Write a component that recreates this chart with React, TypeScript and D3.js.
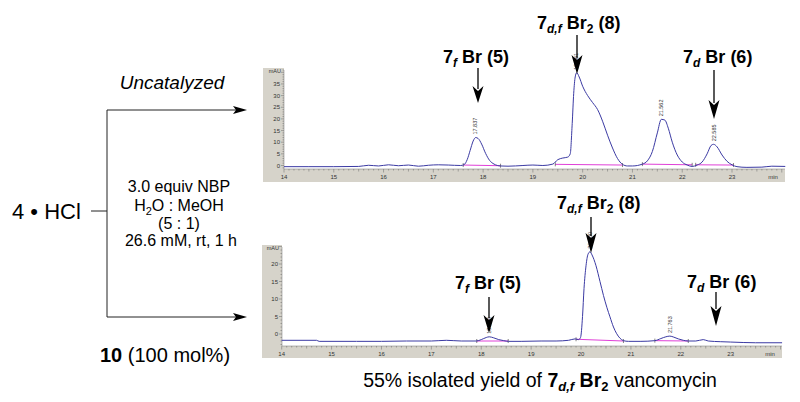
import React from "react";
import * as d3 from "d3";

// ---------- data ----------
const topTimes = [14.0, 14.5, 15.0, 15.5, 15.7, 15.9, 16.1, 16.3, 16.5, 16.7, 16.9, 17.1, 17.3, 17.55, 17.62, 17.68, 17.74, 17.8, 17.85, 17.9, 17.97, 18.05, 18.13, 18.22, 18.35, 18.5, 18.8, 19.0, 19.2, 19.4, 19.5, 19.6, 19.7, 19.75, 19.79, 19.82, 19.85, 19.88, 19.93, 20.0, 20.1, 20.2, 20.3, 20.4, 20.5, 20.6, 20.7, 20.8, 20.9, 21.0, 21.2, 21.3, 21.4, 21.5, 21.58, 21.65, 21.72, 21.8, 21.9, 22.0, 22.1, 22.2, 22.3, 22.4, 22.5, 22.58, 22.63, 22.7, 22.8, 22.9, 23.0, 23.1, 23.3, 23.6, 23.8, 24.07];
const topValues = [-0.5, -0.5, -0.5, -0.4, 0.1, -0.2, 0.3, -0.1, 0.2, -0.3, 0.1, 0.3, 0.2, 0.0, 0.4, 2.5, 6.5, 10.5, 12.0, 11.6, 9.2, 5.2, 2.2, 0.6, -0.2, -0.3, 0.0, 0.2, 0.0, 0.6, 2.5, 3.2, 3.6, 5, 18, 31, 38, 39.8, 38, 34, 30, 27, 24, 19, 13, 7.5, 3, 0.5, -0.2, -0.2, 0.6, 2, 6, 14, 19.8, 19.5, 16, 10, 4.5, 1.5, 0.2, -0.4, 0.2, 1.5, 5, 8.6, 9.1, 8, 4.5, 1.8, 0.3, -0.5, -0.8, -0.7, -0.3, -0.4];

const bottomTimes = [14.0, 14.7, 14.75, 15.5, 16.0, 16.5, 17.0, 17.3, 17.6, 17.9, 18.0, 18.1, 18.16, 18.25, 18.35, 18.45, 18.55, 18.8, 19.2, 19.5, 19.75, 19.88, 19.95, 19.99, 20.03, 20.06, 20.1, 20.14, 20.18, 20.22, 20.3, 20.38, 20.45, 20.52, 20.58, 20.65, 20.71, 20.78, 20.85, 20.95, 21.2, 21.48, 21.6, 21.7, 21.78, 21.86, 21.95, 22.05, 22.15, 22.3, 22.45, 22.55, 22.8, 23.0, 23.5, 24.03];
const bottomValues = [-1.8, -1.8, -2.1, -2.1, -2.1, -2.0, -2.0, -1.8, -2.0, -2.0, -1.6, -1.0, -0.8, -1.1, -1.6, -1.9, -2.1, -2.1, -2.0, -2.0, -1.8, -1.4, -1.6, -1.0, 5, 13, 19.5, 22.8, 23.5, 22.6, 19.5, 15, 11, 7.5, 4.9, 2, 0.2, -1.2, -1.9, -2.1, -2.1, -1.9, -1.3, -0.8, -0.6, -0.9, -1.4, -1.8, -2.0, -2.0, -1.6, -2.0, -2.2, -2.3, -2.5, -2.5];

// integration baselines: [startTime, startValue, endTime, endValue]
const topBaselines = [
  [17.6, 0.2, 18.35, -0.1],
  [19.45, 0.5, 20.8, 0.2],
  [21.2, 0.6, 22.2, 0.3],
  [22.27, 0.3, 23.03, 0.2],
];
const bottomBaselines = [
  [17.91, -2.0, 18.54, -2.0],
  [19.9, -1.5, 20.85, -2.0],
  [21.48, -1.9, 22.15, -2.0],
];

const topPeakTimes = [17.837, 19.861, 21.58, 22.63];
const topPeakLabels = ["17.837", "19.861", "21.562", "22.585"];
const topPeakHeights = [12.0, 39.8, 19.8, 9.1];

const bottomPeakTimes = [18.16, 20.18, 21.78];
const bottomPeakLabels = ["18.164", "20.180", "21.763"];
const bottomPeakHeights = [-0.8, 23.5, -0.6];

const xTickLabels = ["14", "15", "16", "17", "18", "19", "20", "21", "22", "23"];
const topYTicks = [0, 5, 10, 15, 20, 25, 30, 35];
const bottomYTicks = [0, 5, 10, 15, 20];

const FONT = "'Liberation Sans', Arial, Helvetica, sans-serif";
const TRACE = "#3b3aa3";
const PINK = "#e040d8";
const FRAME = "#d6d3ca";

type PanelProps = {
  left: number; right: number; top: number; plotBottom: number; bottom: number; axisX: number;
  t0: number; t1: number; x0: number; x1: number;
  zeroY: number; pxPerUnit: number;
  times: number[]; values: number[]; baselines: number[][];
  yTicks: number[]; peakTimes: number[]; peakLabels: string[]; peakHeights: number[];
  yMinorMin: number; yMinorMax: number;
};

function Panel(p: PanelProps) {
  const x = d3.scaleLinear().domain([p.t0, p.t1]).range([p.x0, p.x1]);
  const y = d3.scaleLinear().domain([0, 10]).range([p.zeroY, p.zeroY - 10 * p.pxPerUnit]);
  const line = d3
    .line<number>()
    .x((_, i) => x(p.times[i]))
    .y((v) => y(v))
    .curve(d3.curveMonotoneX);
  const minorX = d3.range(Math.round(14 * 10), Math.round(24 * 10) + 1).map((v) => v / 10);
  const minorY = d3.range(p.yMinorMin, p.yMinorMax + 1);
  return (
    <g>
      <rect x={p.left} y={p.top} width={p.right - p.left} height={p.bottom - p.top} fill={FRAME} />
      <rect x={p.axisX} y={p.top} width={p.right - p.axisX} height={p.plotBottom - p.top} fill="#ffffff" />
      {/* y axis */}
      <text x={p.axisX - 3} y={p.top + 5} fontSize={5.5} fill="#333" textAnchor="end" fontFamily={FONT}>mAU</text>
      {minorY.map((v) => (
        <line key={"my" + v} x1={p.axisX - (v % 5 === 0 ? 3 : 1.5)} x2={p.axisX} y1={y(v)} y2={y(v)} stroke="#666" strokeWidth={0.5} />
      ))}
      {p.yTicks.map((v) => (
        <text key={"yt" + v} x={p.axisX - 4} y={y(v) + 2} fontSize={6} fill="#333" textAnchor="end" fontFamily={FONT}>{v}</text>
      ))}
      <line x1={p.axisX} x2={p.axisX} y1={p.top + 2} y2={p.plotBottom} stroke="#777" strokeWidth={0.5} />
      {/* x axis */}
      <line x1={p.axisX} x2={p.right} y1={p.plotBottom} y2={p.plotBottom} stroke="#777" strokeWidth={0.5} />
      {minorX.filter((t) => x(t) <= p.right - 1).map((t) => {
        const frac = Math.abs(t - Math.round(t));
        const len = frac < 1e-6 ? 3.5 : Math.abs(frac - 0.5) < 1e-6 ? 2.5 : 1.5;
        return <line key={"mx" + t} x1={x(t)} x2={x(t)} y1={p.plotBottom} y2={p.plotBottom + len} stroke="#666" strokeWidth={0.5} />;
      })}
      {xTickLabels.map((s) => (
        <text key={"xt" + s} x={x(+s)} y={p.plotBottom + 9.5} fontSize={6} fill="#333" textAnchor="middle" fontFamily={FONT}>{s}</text>
      ))}
      <text x={p.right - 12} y={p.plotBottom + 9.5} fontSize={6} fill="#333" textAnchor="middle" fontFamily={FONT}>min</text>
      {/* baselines */}
      {p.baselines.map((b, i) => (
        <g key={"b" + i}>
          <line x1={x(b[0])} x2={x(b[2])} y1={y(b[1])} y2={y(b[3])} stroke={PINK} strokeWidth={1} />
          <line x1={x(b[0])} x2={x(b[0])} y1={y(b[1]) - 2} y2={y(b[1]) + 2} stroke="#333" strokeWidth={0.6} />
          <line x1={x(b[2])} x2={x(b[2])} y1={y(b[3]) - 2} y2={y(b[3]) + 2} stroke="#333" strokeWidth={0.6} />
        </g>
      ))}
      {/* trace */}
      <path d={line(p.values) || ""} fill="none" stroke={TRACE} strokeWidth={1} />
      {/* peak labels */}
      {p.peakTimes.map((t, i) => {
        const px = x(t) + 2;
        const py = y(p.peakHeights[i]) - 3;
        return (
          <text key={"pl" + i} transform={`translate(${px},${py}) rotate(-90)`} fontSize={5.5} fill="#333" fontFamily={FONT}>{p.peakLabels[i]}</text>
        );
      })}
    </g>
  );
}

function DownArrow({ x, y1, tip, head }: { x: number; y1: number; tip: number; head: number }) {
  const hs = tip - head;
  return (
    <g>
      <line x1={x} x2={x} y1={y1} y2={hs + 3} stroke="#000" strokeWidth={1.3} />
      <polygon points={`${x - 5.5},${hs} ${x},${hs + 5} ${x + 5.5},${hs} ${x},${tip}`} fill="#000" />
    </g>
  );
}

function Cmp({ x, y, sub, br2, num }: { x: number; y: number; sub: string; br2?: boolean; num: string }) {
  return (
    <text x={x} y={y} fontSize={18} fontWeight="bold" fontFamily={FONT} fill="#000">
      7
      <tspan fontStyle="italic" fontSize={12} dy={4}>{sub}</tspan>
      <tspan dy={-4} fontSize={18}>{" Br"}</tspan>
      {br2 ? <tspan fontSize={12} dy={4}>2</tspan> : null}
      <tspan dy={br2 ? -4 : 0}>{` (${num})`}</tspan>
    </text>
  );
}

export default function App() {
  return (
    <svg width={800} height={402} viewBox="0 0 800 402" style={{ position: "absolute", left: 0, top: 0, display: "block", background: "#fff" }}>
      <rect width={800} height={402} fill="#fff" />
      {/* left scheme */}
      <text x={172} y={89} fontSize={19} fontStyle="italic" textAnchor="middle" fontFamily={FONT}>Uncatalyzed</text>
      <line x1={107} x2={107} y1={110} y2={317} stroke="#222" strokeWidth={1} />
      <line x1={107} x2={240} y1={110} y2={110} stroke="#222" strokeWidth={1} />
      <polygon points="247,110 233,106 236,110 233,114" fill="#000" />
      <line x1={107} x2={240} y1={317} y2={317} stroke="#222" strokeWidth={1} />
      <polygon points="247,317 233,313 236,317 233,321" fill="#000" />
      <line x1={91} x2={107} y1={211} y2={211} stroke="#222" strokeWidth={1} />
      <text x={12} y={219} fontSize={22} fontFamily={FONT}>4 • HCl</text>
      <text x={179} y={192} fontSize={16} textAnchor="middle" fontFamily={FONT}>3.0 equiv NBP</text>
      <text x={179} y={211} fontSize={16} textAnchor="middle" fontFamily={FONT}>
        H<tspan fontSize={11} dy={4}>2</tspan><tspan dy={-4}>O : MeOH</tspan>
      </text>
      <text x={179} y={229} fontSize={16} textAnchor="middle" fontFamily={FONT}>(5 : 1)</text>
      <text x={181} y={246} fontSize={16} textAnchor="middle" fontFamily={FONT}>26.6 mM, rt, 1 h</text>
      <text x={100} y={362} fontSize={20} fontFamily={FONT}>
        <tspan fontWeight="bold">10</tspan> (100 mol%)
      </text>

      {/* top chromatogram */}
      <Panel left={263} right={785} top={68} plotBottom={169} bottom={182} axisX={284}
        t0={14} t1={23} x0={284} x1={732} zeroY={165.5} pxPerUnit={2.33}
        times={topTimes} values={topValues} baselines={topBaselines} yTicks={topYTicks}
        peakTimes={topPeakTimes} peakLabels={topPeakLabels} peakHeights={topPeakHeights}
        yMinorMin={-1} yMinorMax={41} />
      {/* bottom chromatogram */}
      <Panel left={262} right={782} top={245} plotBottom={346} bottom={358} axisX={282}
        t0={14} t1={23} x0={281.7} x1={730.7} zeroY={334} pxPerUnit={3.5}
        times={bottomTimes} values={bottomValues} baselines={bottomBaselines} yTicks={bottomYTicks}
        peakTimes={bottomPeakTimes} peakLabels={bottomPeakLabels} peakHeights={bottomPeakHeights}
        yMinorMin={-3} yMinorMax={25} />

      {/* top labels & arrows */}
      <Cmp x={443} y={63} sub="f" num="5" />
      <DownArrow x={478} y1={68} tip={103} head={17} />
      <Cmp x={537} y={29} sub="d,f" br2 num="8" />
      <DownArrow x={577} y1={35} tip={74} head={19} />
      <Cmp x={683} y={63} sub="d" num="6" />
      <DownArrow x={714} y1={70} tip={119} head={19} />

      {/* bottom labels & arrows */}
      <Cmp x={557} y={209} sub="d,f" br2 num="8" />
      <DownArrow x={591} y1={217} tip={253} head={20} />
      <Cmp x={455} y={289} sub="f" num="5" />
      <DownArrow x={489} y1={297} tip={333} head={18} />
      <Cmp x={687} y={288} sub="d" num="6" />
      <DownArrow x={716} y1={292} tip={326} head={20} />

      {/* caption */}
      <text x={540} y={387} fontSize={19.5} textAnchor="middle" fontFamily={FONT}>
        55% isolated yield of <tspan fontWeight="bold">7</tspan>
        <tspan fontWeight="bold" fontStyle="italic" fontSize={13} dy={4}>d,f</tspan>
        <tspan fontWeight="bold" dy={-4}>{" Br"}</tspan>
        <tspan fontWeight="bold" fontSize={13} dy={4}>2</tspan>
        <tspan dy={-4}>{" vancomycin"}</tspan>
      </text>
    </svg>
  );
}
